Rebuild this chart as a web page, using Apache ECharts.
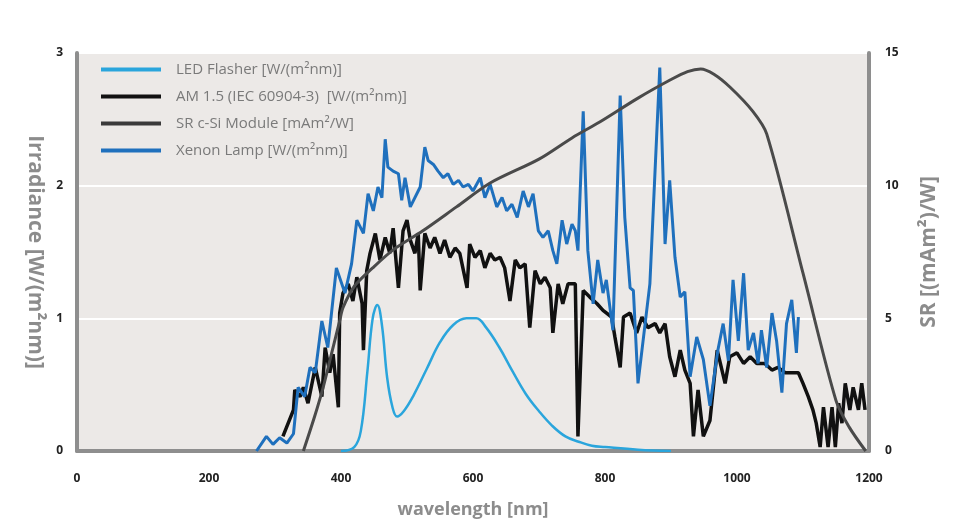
<!DOCTYPE html>
<html>
<head>
<meta charset="utf-8">
<script src="https://cdn.jsdelivr.net/npm/echarts@6/dist/echarts.min.js"></script>
<style>
html, body {margin:0; padding:0; background:#fff;}
#chart {width:960px; height:522px;}
</style>
</head>
<body>
<div id="chart"></div>
<script>
// wavelength [nm], value
var ledData = [[400,0],[420,0.03],[430,0.15],[440,0.6],[448,1.0],[455,1.1],[462,0.95],[470,0.55],[478,0.33],[485,0.26],[495,0.3],[510,0.42],[530,0.62],[550,0.82],[570,0.95],[590,1.0],[605,1.0],[620,0.93],[640,0.78],[660,0.6],[680,0.43],[700,0.3],[720,0.19],[740,0.11],[760,0.07],[780,0.04],[800,0.03],[850,0.01],[900,0]];

var am15Data = [[312,0.11],[328,0.31],[330,0.46],[338,0.41],[343,0.48],[350,0.36],[361,0.63],[371,0.41],[376,0.78],[383,0.59],[388,0.73],[396,0.33],[398,1.04],[403,1.19],[411,1.26],[418,1.13],[424,1.31],[432,1.11],[434,0.76],[439,1.36],[444,1.49],[452,1.64],[459,1.44],[467,1.61],[474,1.49],[479,1.68],[487,1.23],[494,1.66],[500,1.74],[505,1.59],[512,1.49],[517,1.64],[520,1.21],[527,1.64],[535,1.53],[542,1.61],[550,1.49],[557,1.59],[565,1.46],[573,1.53],[580,1.49],[591,1.23],[595,1.56],[603,1.46],[611,1.51],[618,1.38],[626,1.49],[633,1.44],[641,1.46],[648,1.38],[656,1.13],[664,1.44],[671,1.38],[679,1.41],[686,0.93],[694,1.36],[702,1.26],[709,1.31],[717,1.23],[721,0.89],[729,1.26],[736,1.11],[744,1.26],[755,1.26],[759,0.11],[762,0.11],[767,1.21],[777,1.16],[788,1.11],[797,1.06],[810,1.01],[815,0.86],[823,0.63],[828,1.01],[838,1.04],[848,0.89],[856,1.01],[865,0.93],[876,0.96],[883,0.89],[891,0.96],[898,0.71],[906,0.56],[914,0.76],[921,0.61],[929,0.51],[934,0.11],[941,0.46],[949,0.11],[959,0.23],[970,0.76],[982,0.51],[989,0.71],[1000,0.74],[1010,0.66],[1020,0.71],[1030,0.66],[1042,0.66],[1053,0.61],[1062,0.63],[1073,0.59],[1083,0.59],[1093,0.59],[1100,0.51],[1108,0.41],[1115,0.31],[1120,0.21],[1126,0.03],[1131,0.33],[1138,0.03],[1144,0.33],[1149,0.03],[1154,0.36],[1159,0.21],[1164,0.51],[1171,0.31],[1176,0.48],[1184,0.31],[1189,0.51],[1194,0.31]];

var srData = [[343,0],[360,1.3],[373,2.4],[385,3.6],[398,4.9],[403,5.4],[420,6.2],[448,6.9],[480,7.6],[524,8.3],[575,9.2],[626,10.1],[700,11.0],[750,11.8],[792,12.4],[850,13.3],[900,14.0],[925,14.3],[945,14.4],[965,14.2],[990,13.7],[1024,12.8],[1045,11.95],[1100,6.7],[1150,1.9],[1170,0.9],[1195,0]];

var xenonData = [[272,0],[287,0.11],[297,0.05],[307,0.1],[318,0.06],[328,0.13],[335,0.48],[345,0.41],[353,0.63],[361,0.59],[371,0.98],[380,0.78],[393,1.38],[406,1.19],[416,1.41],[424,1.74],[434,1.64],[441,1.94],[449,1.81],[456,1.99],[462,1.91],[467,2.35],[471,2.14],[479,2.11],[487,2.09],[492,1.89],[497,2.06],[505,1.84],[520,1.99],[527,2.29],[532,2.19],[540,2.16],[547,2.11],[555,2.06],[562,2.09],[570,2.01],[578,2.04],[585,1.99],[593,2.01],[600,1.96],[611,2.06],[618,1.91],[626,2.01],[636,1.84],[644,1.91],[651,1.81],[659,1.86],[667,1.76],[676,1.96],[684,1.84],[691,1.94],[699,1.66],[706,1.61],[714,1.66],[721,1.51],[727,1.41],[735,1.74],[742,1.56],[750,1.71],[755,1.66],[759,1.51],[767,2.56],[774,1.51],[782,1.11],[789,1.44],[797,1.19],[802,1.29],[812,0.91],[823,2.68],[830,1.76],[838,1.23],[843,1.21],[850,0.51],[868,1.26],[883,2.89],[891,1.56],[898,2.04],[906,1.46],[914,1.16],[921,1.2],[929,0.56],[939,0.86],[949,0.69],[959,0.34],[971,0.76],[979,0.96],[987,0.68],[994,1.29],[1002,0.83],[1010,1.34],[1017,0.76],[1025,0.89],[1032,0.66],[1037,0.91],[1045,0.63],[1053,1.04],[1060,0.83],[1068,0.44],[1075,0.96],[1083,1.14],[1090,0.74],[1093,1.01]];

var legendNames = ['LED Flasher [W/(m²nm)]', 'AM 1.5 (IEC 60904-3)  [W/(m²nm)]', 'SR c-Si Module [mAm²/W]', 'Xenon Lamp [W/(m²nm)]'];

var FONT = "'Open Sans', sans-serif";
var chart = echarts.init(document.getElementById('chart'));

var axisGray = '#8e8e8e';

var option = {
    backgroundColor: '#ffffff',
    animation: false,
    textStyle: {fontFamily: FONT},
    grid: {left: 77, right: 91, top: 53, bottom: 71, show: true, backgroundColor: '#ece9e7', borderWidth: 0, outerBoundsMode: 'none', containLabel: false},
    legend: {
        orient: 'vertical', left: 96, top: 57, itemWidth: 60, itemHeight: 4, itemGap: 12, icon: 'rect',
        textStyle: {fontFamily: FONT, fontSize: 15, color: '#7a7a7a', padding: [0, 0, 0, 10]},
        data: legendNames
    },
    xAxis: {
        type: 'value', min: 0, max: 1200, interval: 200,
        name: 'wavelength [nm]', nameLocation: 'middle', nameGap: 50,
        nameTextStyle: {fontFamily: FONT, fontSize: 18, fontWeight: 'bold', color: '#8c8c8c'},
        axisLine: {show: true, onZero: false, lineStyle: {color: axisGray, width: 4}},
        axisTick: {show: false},
        axisLabel: {margin: 22, fontSize: 12, fontWeight: 'bold', color: '#222', formatter: function (v) { return String(v); }},
        splitLine: {show: false}
    },
    yAxis: [{
        type: 'value', min: 0, max: 3, interval: 1, position: 'left',
        name: 'Irradiance [W/(m²nm)]', nameLocation: 'middle', nameGap: 28, nameRotate: 270,
        nameTextStyle: {fontFamily: FONT, fontSize: 21, fontWeight: 'bold', color: '#8c8c8c'},
        axisLine: {show: true, onZero: false, lineStyle: {color: axisGray, width: 4}},
        axisTick: {show: false},
        axisLabel: {margin: 14, fontSize: 12, fontWeight: 'bold', color: '#222'},
        splitLine: {show: true, lineStyle: {color: '#ffffff', width: 2}}
    }, {
        type: 'value', min: 0, max: 15, interval: 5, position: 'right',
        name: 'SR [(mAm²)/W]', nameLocation: 'middle', nameGap: 50, nameRotate: 90,
        nameTextStyle: {fontFamily: FONT, fontSize: 21, fontWeight: 'bold', color: '#8c8c8c'},
        axisLine: {show: true, onZero: false, lineStyle: {color: axisGray, width: 4}},
        axisTick: {show: false},
        axisLabel: {margin: 16, fontSize: 12, fontWeight: 'bold', color: '#222'},
        splitLine: {show: false}
    }],
    series: [
        {name: legendNames[1], type: 'line', data: am15Data, showSymbol: false, z: 2,
            lineStyle: {color: '#111111', width: 3.5}, itemStyle: {color: '#111111'}},
        {name: legendNames[3], type: 'line', data: xenonData, showSymbol: false, z: 3,
            lineStyle: {color: '#1f70bd', width: 3}, itemStyle: {color: '#1f70bd'}},
        {name: legendNames[0], type: 'line', data: ledData, showSymbol: false, smooth: 0.4, z: 4,
            lineStyle: {color: '#2aa5dc', width: 2.5}, itemStyle: {color: '#2aa5dc'}},
        {name: legendNames[2], type: 'line', data: srData, yAxisIndex: 1, showSymbol: false, smooth: 0.3, z: 5,
            lineStyle: {color: '#4a4a4a', width: 3}, itemStyle: {color: '#3a3a3a'}}
    ]
};

chart.setOption(option);
</script>
</body>
</html>
